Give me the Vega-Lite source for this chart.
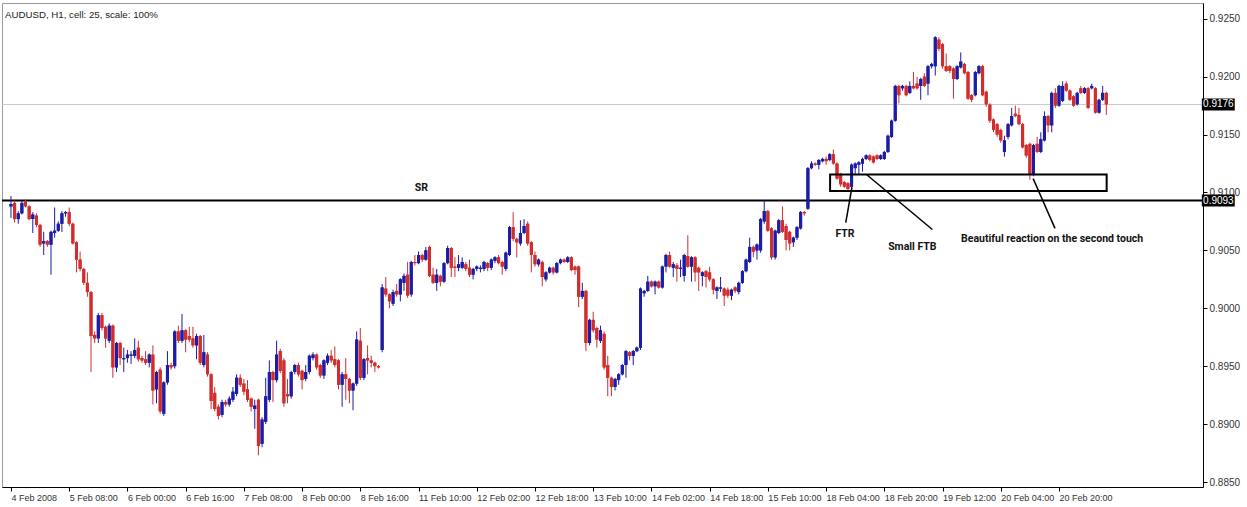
{
"$schema":"https://vega.github.io/schema/vega-lite/v6.json",
"width":1201,"height":484,
"autosize":{"type":"none"},
"padding":{"left":2,"top":3,"right":44,"bottom":20},
"background":"white",
"config":{"view":{"stroke":"#9a9a9a","strokeWidth":1},"axis":{"grid":false}},
"title":{"text":"AUDUSD, H1, cell: 25, scale: 100%","anchor":"start","frame":"group","orient":"top","offset":-14,"dy":11,"baseline":"alphabetic","dx":3,"font":"Liberation Sans","fontSize":9.7,"fontWeight":"normal","color":"#222"},
"datasets":{
"levels":[{"p":0.9176,"label":"0.9176","line":"bid"},{"p":0.9093,"label":"0.9093","line":"sr"}],
"zone":[{"a":225.1,"b":301.1,"top":0.91155,"bot":0.91012}],
"lines":[{"a":231.1,"p":0.91045,"b":229.4,"q":0.9074},{"a":235.1,"p":0.91155,"b":253.2,"q":0.9068},{"a":280.9,"p":0.9112,"b":286.9,"q":0.9069}],
"notes":[{"a":112.8,"p":0.91037,"t":"SR"},{"a":229.2,"p":0.9064,"t":"FTR"},{"a":247.7,"p":0.9053,"t":"Small FTB"},{"a":286.1,"p":0.90597,"t":"Beautiful reaction on the second touch"}],
"candles":[
{"i":0,"o":0.9088,"h":0.9097,"l":0.9078,"c":0.9090},
{"i":1,"o":0.9091,"h":0.9093,"l":0.9074,"c":0.9077},
{"i":2,"o":0.9077,"h":0.9084,"l":0.9073,"c":0.9082},
{"i":3,"o":0.9082,"h":0.9093,"l":0.9081,"c":0.9091},
{"i":4,"o":0.9092,"h":0.9094,"l":0.9087,"c":0.9088},
{"i":5,"o":0.9088,"h":0.9089,"l":0.9076,"c":0.9077},
{"i":6,"o":0.9077,"h":0.9083,"l":0.9065,"c":0.9081},
{"i":7,"o":0.9080,"h":0.9082,"l":0.9070,"c":0.9072},
{"i":8,"o":0.9072,"h":0.9073,"l":0.9053,"c":0.9055},
{"i":9,"o":0.9056,"h":0.9066,"l":0.9046,"c":0.9058},
{"i":10,"o":0.9058,"h":0.9059,"l":0.9053,"c":0.9055},
{"i":11,"o":0.9055,"h":0.9067,"l":0.9029,"c":0.9066},
{"i":12,"o":0.9065,"h":0.9087,"l":0.9061,"c":0.9067},
{"i":13,"o":0.9067,"h":0.9075,"l":0.9066,"c":0.9073},
{"i":14,"o":0.9073,"h":0.9084,"l":0.9066,"c":0.9082},
{"i":15,"o":0.9082,"h":0.9084,"l":0.9079,"c":0.9083},
{"i":16,"o":0.9083,"h":0.9087,"l":0.9071,"c":0.9073},
{"i":17,"o":0.9073,"h":0.9074,"l":0.9055,"c":0.9056},
{"i":18,"o":0.9057,"h":0.9058,"l":0.9031,"c":0.9042},
{"i":19,"o":0.9042,"h":0.9049,"l":0.9032,"c":0.9034},
{"i":20,"o":0.9034,"h":0.9035,"l":0.9020,"c":0.9022},
{"i":21,"o":0.9022,"h":0.9031,"l":0.9010,"c":0.9014},
{"i":22,"o":0.9014,"h":0.9015,"l":0.8945,"c":0.8976},
{"i":23,"o":0.8977,"h":0.8980,"l":0.8970,"c":0.8974},
{"i":24,"o":0.8974,"h":0.8996,"l":0.8970,"c":0.8994},
{"i":25,"o":0.8994,"h":0.8996,"l":0.8981,"c":0.8983},
{"i":26,"o":0.8984,"h":0.8985,"l":0.8966,"c":0.8974},
{"i":27,"o":0.8972,"h":0.8987,"l":0.8970,"c":0.8985},
{"i":28,"o":0.8985,"h":0.8986,"l":0.8940,"c":0.8949},
{"i":29,"o":0.8949,"h":0.8971,"l":0.8945,"c":0.8970},
{"i":30,"o":0.8970,"h":0.8971,"l":0.8951,"c":0.8957},
{"i":31,"o":0.8956,"h":0.8966,"l":0.8945,"c":0.8957},
{"i":32,"o":0.8957,"h":0.8964,"l":0.8953,"c":0.8960},
{"i":33,"o":0.8959,"h":0.8963,"l":0.8952,"c":0.8960},
{"i":34,"o":0.8959,"h":0.8974,"l":0.8957,"c":0.8964},
{"i":35,"o":0.8966,"h":0.8972,"l":0.8954,"c":0.8956},
{"i":36,"o":0.8957,"h":0.8959,"l":0.8953,"c":0.8955},
{"i":37,"o":0.8956,"h":0.8963,"l":0.8951,"c":0.8953},
{"i":38,"o":0.8953,"h":0.8961,"l":0.8949,"c":0.8960},
{"i":39,"o":0.8960,"h":0.8968,"l":0.8917,"c":0.8929},
{"i":40,"o":0.8930,"h":0.8946,"l":0.8918,"c":0.8945},
{"i":41,"o":0.8947,"h":0.8949,"l":0.8909,"c":0.8911},
{"i":42,"o":0.8909,"h":0.8937,"l":0.8907,"c":0.8936},
{"i":43,"o":0.8936,"h":0.8963,"l":0.8934,"c":0.8951},
{"i":44,"o":0.8951,"h":0.8953,"l":0.8947,"c":0.8949},
{"i":45,"o":0.8950,"h":0.8981,"l":0.8948,"c":0.8980},
{"i":46,"o":0.8980,"h":0.8985,"l":0.8970,"c":0.8972},
{"i":47,"o":0.8972,"h":0.8995,"l":0.8970,"c":0.8981},
{"i":48,"o":0.8981,"h":0.8982,"l":0.8962,"c":0.8973},
{"i":49,"o":0.8976,"h":0.8984,"l":0.8971,"c":0.8973},
{"i":50,"o":0.8974,"h":0.8984,"l":0.8966,"c":0.8968},
{"i":51,"o":0.8968,"h":0.8978,"l":0.8956,"c":0.8976},
{"i":52,"o":0.8976,"h":0.8977,"l":0.8951,"c":0.8953},
{"i":53,"o":0.8951,"h":0.8977,"l":0.8949,"c":0.8962},
{"i":54,"o":0.8960,"h":0.8962,"l":0.8941,"c":0.8943},
{"i":55,"o":0.8943,"h":0.8944,"l":0.8913,"c":0.8920},
{"i":56,"o":0.8927,"h":0.8932,"l":0.8911,"c":0.8913},
{"i":57,"o":0.8915,"h":0.8917,"l":0.8904,"c":0.8907},
{"i":58,"o":0.8908,"h":0.8921,"l":0.8906,"c":0.8919},
{"i":59,"o":0.8919,"h":0.8921,"l":0.8915,"c":0.8917},
{"i":60,"o":0.8917,"h":0.8924,"l":0.8915,"c":0.8922},
{"i":61,"o":0.8921,"h":0.8932,"l":0.8919,"c":0.8928},
{"i":62,"o":0.8926,"h":0.8943,"l":0.8924,"c":0.8940},
{"i":63,"o":0.8940,"h":0.8943,"l":0.8932,"c":0.8934},
{"i":64,"o":0.8935,"h":0.8939,"l":0.8925,"c":0.8928},
{"i":65,"o":0.8930,"h":0.8938,"l":0.8919,"c":0.8921},
{"i":66,"o":0.8922,"h":0.8923,"l":0.8911,"c":0.8915},
{"i":67,"o":0.8913,"h":0.8921,"l":0.8896,"c":0.8916},
{"i":68,"o":0.8921,"h":0.8922,"l":0.8873,"c":0.8881},
{"i":69,"o":0.8883,"h":0.8906,"l":0.8880,"c":0.8904},
{"i":70,"o":0.8902,"h":0.8940,"l":0.8900,"c":0.8924},
{"i":71,"o":0.8921,"h":0.8955,"l":0.8919,"c":0.8945},
{"i":72,"o":0.8945,"h":0.8946,"l":0.8919,"c":0.8938},
{"i":73,"o":0.8938,"h":0.8972,"l":0.8936,"c":0.8960},
{"i":74,"o":0.8963,"h":0.8965,"l":0.8944,"c":0.8946},
{"i":75,"o":0.8955,"h":0.8957,"l":0.8915,"c":0.8918},
{"i":76,"o":0.8926,"h":0.8939,"l":0.8918,"c":0.8924},
{"i":77,"o":0.8924,"h":0.8946,"l":0.8922,"c":0.8945},
{"i":78,"o":0.8945,"h":0.8952,"l":0.8943,"c":0.8951},
{"i":79,"o":0.8951,"h":0.8953,"l":0.8941,"c":0.8943},
{"i":80,"o":0.8946,"h":0.8947,"l":0.8930,"c":0.8938},
{"i":81,"o":0.8939,"h":0.8951,"l":0.8937,"c":0.8945},
{"i":82,"o":0.8945,"h":0.8960,"l":0.8943,"c":0.8959},
{"i":83,"o":0.8957,"h":0.8962,"l":0.8955,"c":0.8960},
{"i":84,"o":0.8960,"h":0.8961,"l":0.8947,"c":0.8949},
{"i":85,"o":0.8951,"h":0.8952,"l":0.8940,"c":0.8942},
{"i":86,"o":0.8942,"h":0.8956,"l":0.8939,"c":0.8955},
{"i":87,"o":0.8953,"h":0.8961,"l":0.8951,"c":0.8959},
{"i":88,"o":0.8959,"h":0.8964,"l":0.8953,"c":0.8955},
{"i":89,"o":0.8956,"h":0.8967,"l":0.8949,"c":0.8951},
{"i":90,"o":0.8955,"h":0.8956,"l":0.8930,"c":0.8934},
{"i":91,"o":0.8934,"h":0.8945,"l":0.8915,"c":0.8943},
{"i":92,"o":0.8943,"h":0.8957,"l":0.8921,"c":0.8939},
{"i":93,"o":0.8939,"h":0.8940,"l":0.8918,"c":0.8929},
{"i":94,"o":0.8929,"h":0.8936,"l":0.8912,"c":0.8935},
{"i":95,"o":0.8935,"h":0.8980,"l":0.8933,"c":0.8973},
{"i":96,"o":0.8972,"h":0.8983,"l":0.8938,"c":0.8940},
{"i":97,"o":0.8940,"h":0.8957,"l":0.8938,"c":0.8956},
{"i":98,"o":0.8957,"h":0.8968,"l":0.8943,"c":0.8955},
{"i":99,"o":0.8955,"h":0.8959,"l":0.8949,"c":0.8953},
{"i":100,"o":0.8953,"h":0.8954,"l":0.8945,"c":0.8950},
{"i":101,"o":0.8950,"h":0.8951,"l":0.8948,"c":0.8949},
{"i":102,"o":0.8964,"h":0.9021,"l":0.8962,"c":0.9018},
{"i":103,"o":0.9017,"h":0.9027,"l":0.9010,"c":0.9012},
{"i":104,"o":0.9012,"h":0.9013,"l":0.9000,"c":0.9006},
{"i":105,"o":0.9004,"h":0.9016,"l":0.9002,"c":0.9014},
{"i":106,"o":0.9015,"h":0.9021,"l":0.9010,"c":0.9012},
{"i":107,"o":0.9012,"h":0.9026,"l":0.9006,"c":0.9025},
{"i":108,"o":0.9022,"h":0.9030,"l":0.9015,"c":0.9028},
{"i":109,"o":0.9029,"h":0.9040,"l":0.9009,"c":0.9011},
{"i":110,"o":0.9012,"h":0.9041,"l":0.9010,"c":0.9040},
{"i":111,"o":0.9040,"h":0.9046,"l":0.9037,"c":0.9039},
{"i":112,"o":0.9039,"h":0.9049,"l":0.9038,"c":0.9046},
{"i":113,"o":0.9046,"h":0.9047,"l":0.9040,"c":0.9042},
{"i":114,"o":0.9042,"h":0.9053,"l":0.9041,"c":0.9050},
{"i":115,"o":0.9053,"h":0.9054,"l":0.9027,"c":0.9028},
{"i":116,"o":0.9029,"h":0.9035,"l":0.9021,"c":0.9022},
{"i":117,"o":0.9022,"h":0.9034,"l":0.9015,"c":0.9029},
{"i":118,"o":0.9028,"h":0.9029,"l":0.9019,"c":0.9023},
{"i":119,"o":0.9023,"h":0.9040,"l":0.9022,"c":0.9039},
{"i":120,"o":0.9039,"h":0.9054,"l":0.9038,"c":0.9052},
{"i":121,"o":0.9052,"h":0.9053,"l":0.9027,"c":0.9035},
{"i":122,"o":0.9036,"h":0.9044,"l":0.9027,"c":0.9035},
{"i":123,"o":0.9035,"h":0.9046,"l":0.9032,"c":0.9038},
{"i":124,"o":0.9035,"h":0.9044,"l":0.9034,"c":0.9040},
{"i":125,"o":0.9038,"h":0.9040,"l":0.9032,"c":0.9034},
{"i":126,"o":0.9035,"h":0.9042,"l":0.9027,"c":0.9029},
{"i":127,"o":0.9029,"h":0.9035,"l":0.9025,"c":0.9034},
{"i":128,"o":0.9034,"h":0.9037,"l":0.9032,"c":0.9036},
{"i":129,"o":0.9034,"h":0.9037,"l":0.9031,"c":0.9035},
{"i":130,"o":0.9034,"h":0.9041,"l":0.9032,"c":0.9040},
{"i":131,"o":0.9039,"h":0.9040,"l":0.9032,"c":0.9035},
{"i":132,"o":0.9035,"h":0.9043,"l":0.9033,"c":0.9042},
{"i":133,"o":0.9041,"h":0.9045,"l":0.9039,"c":0.9044},
{"i":134,"o":0.9044,"h":0.9046,"l":0.9038,"c":0.9039},
{"i":135,"o":0.9040,"h":0.9041,"l":0.9029,"c":0.9036},
{"i":136,"o":0.9034,"h":0.9049,"l":0.9032,"c":0.9048},
{"i":137,"o":0.9046,"h":0.9071,"l":0.9045,"c":0.9070},
{"i":138,"o":0.9070,"h":0.9083,"l":0.9058,"c":0.9060},
{"i":139,"o":0.9060,"h":0.9061,"l":0.9044,"c":0.9057},
{"i":140,"o":0.9056,"h":0.9076,"l":0.9054,"c":0.9065},
{"i":141,"o":0.9065,"h":0.9077,"l":0.9064,"c":0.9071},
{"i":142,"o":0.9073,"h":0.9075,"l":0.9054,"c":0.9056},
{"i":143,"o":0.9057,"h":0.9058,"l":0.9031,"c":0.9046},
{"i":144,"o":0.9046,"h":0.9049,"l":0.9036,"c":0.9038},
{"i":145,"o":0.9038,"h":0.9043,"l":0.9036,"c":0.9042},
{"i":146,"o":0.9040,"h":0.9041,"l":0.9019,"c":0.9027},
{"i":147,"o":0.9025,"h":0.9032,"l":0.9023,"c":0.9031},
{"i":148,"o":0.9031,"h":0.9036,"l":0.9030,"c":0.9035},
{"i":149,"o":0.9035,"h":0.9036,"l":0.9029,"c":0.9031},
{"i":150,"o":0.9031,"h":0.9040,"l":0.9030,"c":0.9039},
{"i":151,"o":0.9039,"h":0.9043,"l":0.9038,"c":0.9042},
{"i":152,"o":0.9042,"h":0.9043,"l":0.9039,"c":0.9040},
{"i":153,"o":0.9040,"h":0.9045,"l":0.9039,"c":0.9044},
{"i":154,"o":0.9044,"h":0.9045,"l":0.9032,"c":0.9033},
{"i":155,"o":0.9036,"h":0.9037,"l":0.9029,"c":0.9033},
{"i":156,"o":0.9036,"h":0.9037,"l":0.9001,"c":0.9010},
{"i":157,"o":0.9010,"h":0.9022,"l":0.9008,"c":0.9015},
{"i":158,"o":0.9015,"h":0.9016,"l":0.8963,"c":0.8970},
{"i":159,"o":0.8970,"h":0.8991,"l":0.8968,"c":0.8990},
{"i":160,"o":0.8990,"h":0.8997,"l":0.8979,"c":0.8981},
{"i":161,"o":0.8983,"h":0.8984,"l":0.8966,"c":0.8973},
{"i":162,"o":0.8972,"h":0.8985,"l":0.8970,"c":0.8981},
{"i":163,"o":0.8978,"h":0.8980,"l":0.8947,"c":0.8949},
{"i":164,"o":0.8951,"h":0.8959,"l":0.8924,"c":0.8940},
{"i":165,"o":0.8940,"h":0.8941,"l":0.8924,"c":0.8932},
{"i":166,"o":0.8932,"h":0.8940,"l":0.8929,"c":0.8939},
{"i":167,"o":0.8938,"h":0.8944,"l":0.8934,"c":0.8943},
{"i":168,"o":0.8943,"h":0.8952,"l":0.8942,"c":0.8951},
{"i":169,"o":0.8951,"h":0.8964,"l":0.8940,"c":0.8963},
{"i":170,"o":0.8962,"h":0.8963,"l":0.8955,"c":0.8959},
{"i":171,"o":0.8959,"h":0.8964,"l":0.8951,"c":0.8963},
{"i":172,"o":0.8963,"h":0.8967,"l":0.8962,"c":0.8966},
{"i":173,"o":0.8966,"h":0.9018,"l":0.8964,"c":0.9017},
{"i":174,"o":0.9013,"h":0.9016,"l":0.9010,"c":0.9015},
{"i":175,"o":0.9015,"h":0.9028,"l":0.9014,"c":0.9023},
{"i":176,"o":0.9023,"h":0.9024,"l":0.9018,"c":0.9019},
{"i":177,"o":0.9019,"h":0.9024,"l":0.9012,"c":0.9023},
{"i":178,"o":0.9023,"h":0.9024,"l":0.9017,"c":0.9018},
{"i":179,"o":0.9018,"h":0.9037,"l":0.9017,"c":0.9036},
{"i":180,"o":0.9036,"h":0.9047,"l":0.9031,"c":0.9046},
{"i":181,"o":0.9046,"h":0.9049,"l":0.9035,"c":0.9036},
{"i":182,"o":0.9035,"h":0.9040,"l":0.9027,"c":0.9038},
{"i":183,"o":0.9037,"h":0.9039,"l":0.9023,"c":0.9034},
{"i":184,"o":0.9034,"h":0.9042,"l":0.9027,"c":0.9035},
{"i":185,"o":0.9028,"h":0.9047,"l":0.9023,"c":0.9046},
{"i":186,"o":0.9045,"h":0.9063,"l":0.9035,"c":0.9036},
{"i":187,"o":0.9036,"h":0.9045,"l":0.9023,"c":0.9044},
{"i":188,"o":0.9044,"h":0.9045,"l":0.9023,"c":0.9031},
{"i":189,"o":0.9035,"h":0.9036,"l":0.9015,"c":0.9031},
{"i":190,"o":0.9028,"h":0.9032,"l":0.9019,"c":0.9031},
{"i":191,"o":0.9032,"h":0.9033,"l":0.9018,"c":0.9027},
{"i":192,"o":0.9031,"h":0.9036,"l":0.9023,"c":0.9025},
{"i":193,"o":0.9025,"h":0.9026,"l":0.9012,"c":0.9016},
{"i":194,"o":0.9015,"h":0.9019,"l":0.9008,"c":0.9018},
{"i":195,"o":0.9017,"h":0.9027,"l":0.9014,"c":0.9018},
{"i":196,"o":0.9017,"h":0.9018,"l":0.9002,"c":0.9011},
{"i":197,"o":0.9016,"h":0.9018,"l":0.9009,"c":0.9011},
{"i":198,"o":0.9011,"h":0.9017,"l":0.9007,"c":0.9016},
{"i":199,"o":0.9018,"h":0.9019,"l":0.9013,"c":0.9015},
{"i":200,"o":0.9014,"h":0.9023,"l":0.9012,"c":0.9022},
{"i":201,"o":0.9022,"h":0.9033,"l":0.9021,"c":0.9032},
{"i":202,"o":0.9032,"h":0.9043,"l":0.9031,"c":0.9042},
{"i":203,"o":0.9040,"h":0.9061,"l":0.9039,"c":0.9053},
{"i":204,"o":0.9053,"h":0.9054,"l":0.9044,"c":0.9049},
{"i":205,"o":0.9050,"h":0.9056,"l":0.9042,"c":0.9055},
{"i":206,"o":0.9050,"h":0.9078,"l":0.9048,"c":0.9077},
{"i":207,"o":0.9075,"h":0.9093,"l":0.9073,"c":0.9084},
{"i":208,"o":0.9084,"h":0.9085,"l":0.9066,"c":0.9067},
{"i":209,"o":0.9069,"h":0.9070,"l":0.9042,"c":0.9044},
{"i":210,"o":0.9044,"h":0.9068,"l":0.9042,"c":0.9067},
{"i":211,"o":0.9065,"h":0.9077,"l":0.9064,"c":0.9076},
{"i":212,"o":0.9076,"h":0.9088,"l":0.9065,"c":0.9066},
{"i":213,"o":0.9071,"h":0.9073,"l":0.9050,"c":0.9059},
{"i":214,"o":0.9066,"h":0.9067,"l":0.9050,"c":0.9056},
{"i":215,"o":0.9057,"h":0.9062,"l":0.9053,"c":0.9061},
{"i":216,"o":0.9061,"h":0.9071,"l":0.9059,"c":0.9070},
{"i":217,"o":0.9069,"h":0.9084,"l":0.9068,"c":0.9083},
{"i":218,"o":0.9083,"h":0.9084,"l":0.9080,"c":0.9082},
{"i":219,"o":0.9086,"h":0.9122,"l":0.9085,"c":0.9121},
{"i":220,"o":0.9121,"h":0.9127,"l":0.9120,"c":0.9125},
{"i":221,"o":0.9125,"h":0.9126,"l":0.9123,"c":0.9124},
{"i":222,"o":0.9124,"h":0.9129,"l":0.9120,"c":0.9128},
{"i":223,"o":0.9127,"h":0.9130,"l":0.9126,"c":0.9129},
{"i":224,"o":0.9129,"h":0.9131,"l":0.9124,"c":0.9127},
{"i":225,"o":0.9128,"h":0.9134,"l":0.9127,"c":0.9133},
{"i":226,"o":0.9133,"h":0.9137,"l":0.9124,"c":0.9125},
{"i":227,"o":0.9125,"h":0.9126,"l":0.9111,"c":0.9112},
{"i":228,"o":0.9116,"h":0.9117,"l":0.9105,"c":0.9107},
{"i":229,"o":0.9109,"h":0.9110,"l":0.9104,"c":0.9105},
{"i":230,"o":0.9108,"h":0.9109,"l":0.9101,"c":0.9103},
{"i":231,"o":0.9105,"h":0.9125,"l":0.9103,"c":0.9124},
{"i":232,"o":0.9121,"h":0.9126,"l":0.9116,"c":0.9125},
{"i":233,"o":0.9124,"h":0.9127,"l":0.9116,"c":0.9126},
{"i":234,"o":0.9125,"h":0.9130,"l":0.9118,"c":0.9129},
{"i":235,"o":0.9129,"h":0.9133,"l":0.9128,"c":0.9132},
{"i":236,"o":0.9132,"h":0.9133,"l":0.9127,"c":0.9128},
{"i":237,"o":0.9131,"h":0.9132,"l":0.9125,"c":0.9126},
{"i":238,"o":0.9132,"h":0.9133,"l":0.9128,"c":0.9129},
{"i":239,"o":0.9129,"h":0.9133,"l":0.9128,"c":0.9132},
{"i":240,"o":0.9129,"h":0.9136,"l":0.9128,"c":0.9135},
{"i":241,"o":0.9135,"h":0.9150,"l":0.9134,"c":0.9149},
{"i":242,"o":0.9148,"h":0.9163,"l":0.9147,"c":0.9162},
{"i":243,"o":0.9162,"h":0.9193,"l":0.9161,"c":0.9192},
{"i":244,"o":0.9192,"h":0.9193,"l":0.9177,"c":0.9184},
{"i":245,"o":0.9190,"h":0.9193,"l":0.9188,"c":0.9192},
{"i":246,"o":0.9192,"h":0.9193,"l":0.9183,"c":0.9184},
{"i":247,"o":0.9186,"h":0.9196,"l":0.9185,"c":0.9192},
{"i":248,"o":0.9192,"h":0.9204,"l":0.9189,"c":0.9190},
{"i":249,"o":0.9194,"h":0.9200,"l":0.9189,"c":0.9190},
{"i":250,"o":0.9192,"h":0.9199,"l":0.9180,"c":0.9198},
{"i":251,"o":0.9200,"h":0.9203,"l":0.9191,"c":0.9192},
{"i":252,"o":0.9194,"h":0.9210,"l":0.9184,"c":0.9209},
{"i":253,"o":0.9209,"h":0.9212,"l":0.9207,"c":0.9211},
{"i":254,"o":0.9209,"h":0.9235,"l":0.9201,"c":0.9234},
{"i":255,"o":0.9232,"h":0.9234,"l":0.9222,"c":0.9224},
{"i":256,"o":0.9228,"h":0.9229,"l":0.9207,"c":0.9209},
{"i":257,"o":0.9209,"h":0.9220,"l":0.9204,"c":0.9205},
{"i":258,"o":0.9209,"h":0.9210,"l":0.9203,"c":0.9205},
{"i":259,"o":0.9207,"h":0.9208,"l":0.9181,"c":0.9198},
{"i":260,"o":0.9198,"h":0.9210,"l":0.9197,"c":0.9209},
{"i":261,"o":0.9208,"h":0.9221,"l":0.9207,"c":0.9213},
{"i":262,"o":0.9211,"h":0.9212,"l":0.9202,"c":0.9203},
{"i":263,"o":0.9204,"h":0.9205,"l":0.9180,"c":0.9181},
{"i":264,"o":0.9184,"h":0.9185,"l":0.9178,"c":0.9180},
{"i":265,"o":0.9184,"h":0.9205,"l":0.9183,"c":0.9204},
{"i":266,"o":0.9203,"h":0.9210,"l":0.9202,"c":0.9209},
{"i":267,"o":0.9209,"h":0.9210,"l":0.9183,"c":0.9184},
{"i":268,"o":0.9187,"h":0.9188,"l":0.9174,"c":0.9176},
{"i":269,"o":0.9176,"h":0.9177,"l":0.9160,"c":0.9162},
{"i":270,"o":0.9163,"h":0.9164,"l":0.9152,"c":0.9154},
{"i":271,"o":0.9159,"h":0.9160,"l":0.9148,"c":0.9150},
{"i":272,"o":0.9154,"h":0.9155,"l":0.9143,"c":0.9145},
{"i":273,"o":0.9135,"h":0.9149,"l":0.9131,"c":0.9145},
{"i":274,"o":0.9148,"h":0.9160,"l":0.9146,"c":0.9159},
{"i":275,"o":0.9158,"h":0.9173,"l":0.9157,"c":0.9166},
{"i":276,"o":0.9168,"h":0.9175,"l":0.9165,"c":0.9166},
{"i":277,"o":0.9167,"h":0.9173,"l":0.9158,"c":0.9159},
{"i":278,"o":0.9159,"h":0.9160,"l":0.9138,"c":0.9139},
{"i":279,"o":0.9141,"h":0.9142,"l":0.9130,"c":0.9132},
{"i":280,"o":0.9142,"h":0.9143,"l":0.9111,"c":0.9116},
{"i":281,"o":0.9116,"h":0.9142,"l":0.9114,"c":0.9141},
{"i":282,"o":0.9142,"h":0.9148,"l":0.9134,"c":0.9135},
{"i":283,"o":0.9135,"h":0.9152,"l":0.9134,"c":0.9146},
{"i":284,"o":0.9145,"h":0.9170,"l":0.9144,"c":0.9166},
{"i":285,"o":0.9166,"h":0.9167,"l":0.9152,"c":0.9158},
{"i":286,"o":0.9158,"h":0.9187,"l":0.9152,"c":0.9186},
{"i":287,"o":0.9186,"h":0.9190,"l":0.9173,"c":0.9175},
{"i":288,"o":0.9175,"h":0.9193,"l":0.9174,"c":0.9192},
{"i":289,"o":0.9179,"h":0.9196,"l":0.9178,"c":0.9192},
{"i":290,"o":0.9194,"h":0.9196,"l":0.9187,"c":0.9188},
{"i":291,"o":0.9188,"h":0.9189,"l":0.9179,"c":0.9180},
{"i":292,"o":0.9183,"h":0.9184,"l":0.9174,"c":0.9175},
{"i":293,"o":0.9176,"h":0.9187,"l":0.9175,"c":0.9186},
{"i":294,"o":0.9190,"h":0.9192,"l":0.9185,"c":0.9186},
{"i":295,"o":0.9186,"h":0.9191,"l":0.9185,"c":0.9190},
{"i":296,"o":0.9190,"h":0.9191,"l":0.9172,"c":0.9173},
{"i":297,"o":0.9190,"h":0.9194,"l":0.9189,"c":0.9192},
{"i":298,"o":0.9190,"h":0.9191,"l":0.9168,"c":0.9169},
{"i":299,"o":0.9169,"h":0.9181,"l":0.9168,"c":0.9180},
{"i":300,"o":0.9180,"h":0.9192,"l":0.9179,"c":0.9186},
{"i":301,"o":0.9186,"h":0.9187,"l":0.9167,"c":0.9176}
]},
"layer":[
{"data":{"name":"candles"},"mark":{"type":"bar","size":3},
 "encoding":{"x":{"field":"i","type":"quantitative","scale":{"domain":[-1.09,326.2],"nice":false,"zero":false},
   "axis":{"orient":"bottom","values":[0,16,32,48,64,80,96,112,128,144,160,176,192,208,224,240,256,272,288],
    "labelExpr":"['4 Feb 2008','5 Feb 08:00','6 Feb 00:00','6 Feb 16:00','7 Feb 08:00','8 Feb 00:00','8 Feb 16:00','11 Feb 10:00','12 Feb 02:00','12 Feb 18:00','13 Feb 10:00','14 Feb 02:00','14 Feb 18:00','15 Feb 10:00','18 Feb 04:00','18 Feb 20:00','19 Feb 12:00','20 Feb 04:00','20 Feb 20:00'][round(datum.value/16)]",
    "tickSize":4,"tickColor":"#000000","domainColor":"#000000","labelAlign":"left","labelBaseline":"top","labelPadding":2,"labelDx":1,
    "labelFont":"Liberation Sans","labelFontSize":9,"labelColor":"#333333","title":null,"labelOverlap":false,"labelFlush":false,"grid":false}},
  "y":{"field":"o","type":"quantitative","scale":{"domain":[0.885,0.92593],"nice":false,"zero":false},
   "axis":{"orient":"right","values":[0.885,0.8875,0.89,0.8925,0.895,0.8975,0.9,0.9025,0.905,0.9075,0.91,0.9125,0.915,0.9175,0.92,0.9225,0.925],
    "format":".4f","tickSize":4,"tickColor":"#000000","domainColor":"#000000","labelPadding":2,"labelFont":"Liberation Sans","labelFontSize":10,"labelColor":"#333333","title":null,"labelOverlap":false,"labelFlush":false,"grid":false}},
  "y2":{"field":"c"},
  "color":{"condition":{"test":"datum.c>=datum.o","value":"#1c1ca6"},"value":"#d22d2d"}}},
{"data":{"name":"levels"},"mark":{"type":"rule"},
 "encoding":{"y":{"field":"p","type":"quantitative","scale":{"domain":[0.885,0.92593],"nice":false,"zero":false}},
  "color":{"condition":{"test":"datum.line=='sr'","value":"#000000"},"value":"#c8c8c8"},
  "strokeWidth":{"condition":{"test":"datum.line=='sr'","value":2},"value":1}}},
{"data":{"name":"candles"},"mark":{"type":"rule","strokeWidth":1},
 "encoding":{"x":{"field":"i","type":"quantitative","scale":{"domain":[-1.09,326.2],"nice":false,"zero":false}},
  "y":{"field":"l","type":"quantitative","scale":{"domain":[0.885,0.92593],"nice":false,"zero":false}},
  "y2":{"field":"h"},
  "color":{"condition":{"test":"datum.c>=datum.o","value":"#1c1ca6"},"value":"#d22d2d"}}},
{"data":{"name":"candles"},"mark":{"type":"bar","size":3},
 "encoding":{"x":{"field":"i","type":"quantitative","scale":{"domain":[-1.09,326.2],"nice":false,"zero":false}},
  "y":{"field":"o","type":"quantitative","scale":{"domain":[0.885,0.92593],"nice":false,"zero":false}},
  "y2":{"field":"c"},
  "color":{"condition":{"test":"datum.c>=datum.o","value":"#1c1ca6"},"value":"#d22d2d"}}},
{"data":{"name":"zone"},"mark":{"type":"rect","filled":false,"stroke":"#000000","strokeWidth":2},
 "encoding":{"x":{"field":"a","type":"quantitative","scale":{"domain":[-1.09,326.2],"nice":false,"zero":false}},
  "x2":{"field":"b"},
  "y":{"field":"top","type":"quantitative","scale":{"domain":[0.885,0.92593],"nice":false,"zero":false}},
  "y2":{"field":"bot"}}},
{"data":{"name":"lines"},"mark":{"type":"rule","strokeWidth":1.5,"color":"#000000"},
 "encoding":{"x":{"field":"a","type":"quantitative","scale":{"domain":[-1.09,326.2],"nice":false,"zero":false}},
  "x2":{"field":"b"},
  "y":{"field":"p","type":"quantitative","scale":{"domain":[0.885,0.92593],"nice":false,"zero":false}},
  "y2":{"field":"q"}}},
{"data":{"name":"notes"},"mark":{"type":"text","font":"Roboto","fontSize":10.5,"fontWeight":"bold","color":"#111111","align":"center","baseline":"middle"},
 "encoding":{"x":{"field":"a","type":"quantitative","scale":{"domain":[-1.09,326.2],"nice":false,"zero":false}},
  "y":{"field":"p","type":"quantitative","scale":{"domain":[0.885,0.92593],"nice":false,"zero":false}},
  "text":{"field":"t"}}},
{"data":{"name":"levels"},"mark":{"type":"bar","size":12,"color":"#000000","clip":false,"orient":"horizontal"},
 "encoding":{"x":{"datum":327.25,"type":"quantitative","scale":{"domain":[-1.09,326.2],"nice":false,"zero":false}},
  "x2":{"datum":336.3},
  "y":{"field":"p","type":"quantitative","scale":{"domain":[0.885,0.92593],"nice":false,"zero":false}}}},
{"data":{"name":"levels"},"mark":{"type":"text","font":"Liberation Sans","fontSize":10,"color":"#ffffff","align":"center","baseline":"middle","clip":false},
 "encoding":{"x":{"datum":331.8,"type":"quantitative","scale":{"domain":[-1.09,326.2],"nice":false,"zero":false}},
  "y":{"field":"p","type":"quantitative","scale":{"domain":[0.885,0.92593],"nice":false,"zero":false}},
  "text":{"field":"label"}}}
]
}
